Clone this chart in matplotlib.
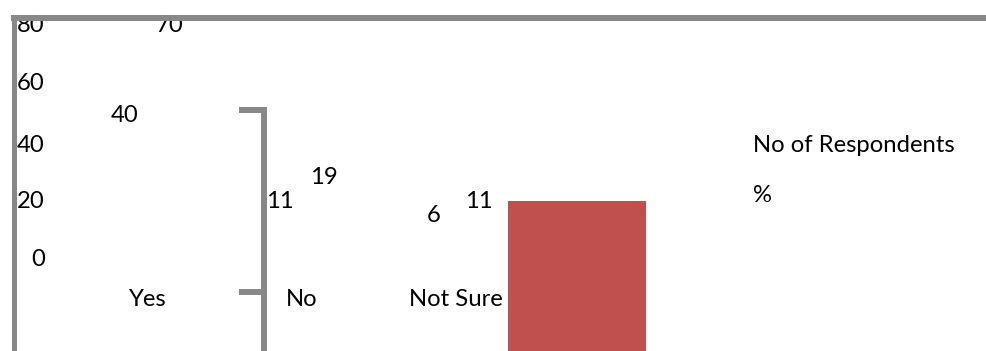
import matplotlib.pyplot as plt

plt.rcParams['font.family'] = ['Lato', 'DejaVu Sans']

categories = ["Yes", "No", "Not Sure"]
respondents = [40, 11, 6]
percent = [70, 19, 11]
y_ticks = [0, 20, 40, 60, 80]
series = ["No of Respondents", "%"]

# layout of the chart area in pixels (origin top-left)
W, H = 986, 351
cat_x = [147, 302, 456]
resp_pos = [(125, 116), (280, 202), (434, 216)]
pct_pos = [(170, 26), (324, 177), (479, 202)]
tick_x = 31
tick_y = [260, 202, 145, 84, 26]
legend_x = 753
legend_y = [146, 195]

grey = '#888888'
red = '#c0504d'
fs = 17.2

fig = plt.figure(figsize=(9.86, 3.51), dpi=100)
ax = fig.add_axes([0, 0, 1, 1])
ax.set_xlim(0, W)
ax.set_ylim(H, 0)
ax.axis('off')

# value axis labels
for t, y in zip(y_ticks, tick_y):
    ax.text(tick_x if t else tick_x + 7, y, str(t), fontsize=fs,
            ha='center', va='center', zorder=1)

# data labels for both series
for v, (x, y) in zip(respondents, resp_pos):
    ax.text(x, y, str(v), fontsize=fs, ha='center', va='center')
for v, (x, y) in zip(percent, pct_pos):
    ax.text(x, y, str(v), fontsize=fs, ha='center', va='center')

# category labels
for c, x in zip(categories, cat_x):
    ax.text(x, 300, c, fontsize=fs, ha='center', va='center')

# series names
for s, y in zip(series, legend_y):
    ax.text(legend_x, y, s, fontsize=fs, ha='left', va='center')

# frame lines and the axis bracket
lw = 4.3
ax.plot([11, W], [18, 18], color=grey, lw=lw, solid_capstyle='butt', zorder=3)
ax.plot([13.5, 13.5], [15, H], color=grey, lw=lw - 0.7, solid_capstyle='butt', zorder=3)
ax.plot([264, 264], [107, H], color=grey, lw=lw, solid_capstyle='butt', zorder=3)
ax.plot([239, 267], [110, 110], color=grey, lw=lw, solid_capstyle='butt', zorder=3)
ax.plot([239, 264], [292, 292], color=grey, lw=lw, solid_capstyle='butt', zorder=3)

# swatch for the percentage series
ax.bar(577, H - 201, width=138, bottom=201, color=red, zorder=2)

fig.savefig('out.png', dpi=100)
